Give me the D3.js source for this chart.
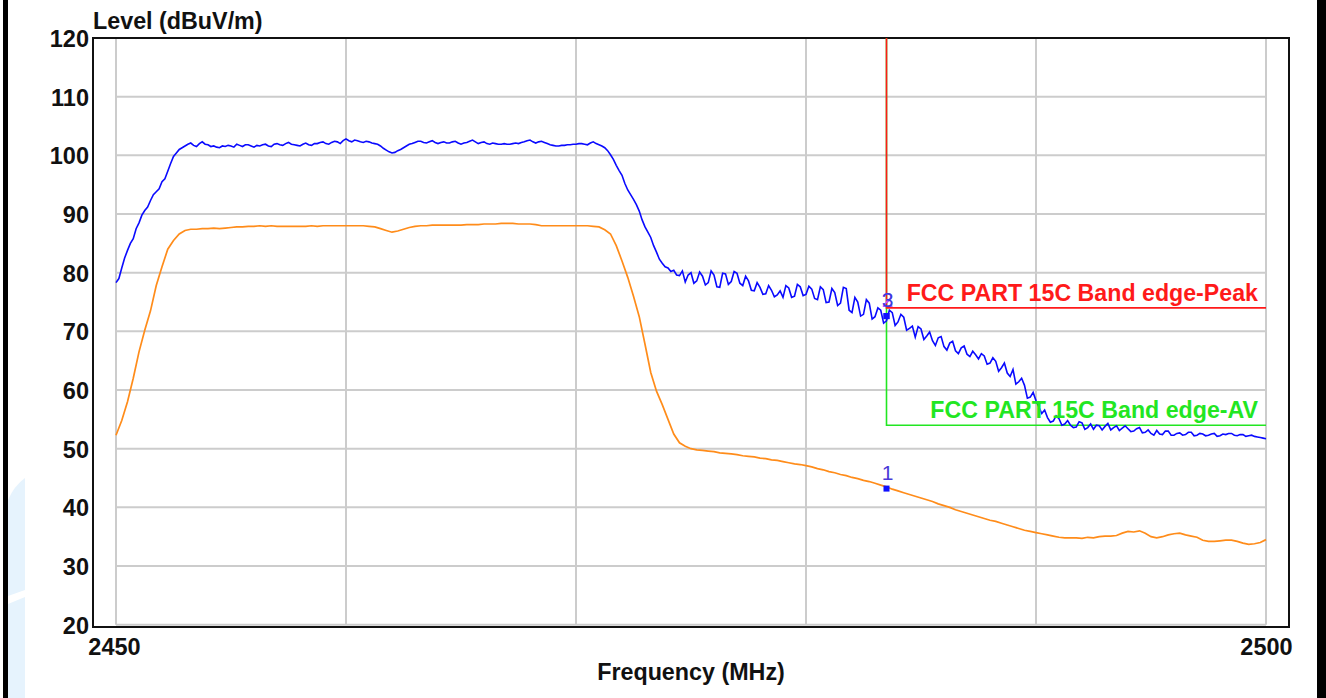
<!DOCTYPE html>
<html>
<head>
<meta charset="utf-8">
<script src="https://cdn.jsdelivr.net/npm/d3@7"></script>
<style>
  body { margin: 0; background: #fff; }
  svg { display: block; font-family: "Liberation Sans", Arial, sans-serif; }
</style>
</head>
<body>
<svg width="1326" height="698"></svg>
<script>
// Sweep settings (MHz)
const freqStart = 2450;
const peakStep = 0.125;
const avgStep = 0.25;

// Peak detector trace (dBuV/m), one value per 0.125 MHz
const peakLevels = [
  78.3, 79.0, 80.8, 82.5, 83.8, 85.0, 85.8, 87.5, 88.5, 89.8, 90.6, 91.2, 92.3, 93.3, 93.8, 94.3, 95.5, 96.0, 97.3, 98.6,
  99.8, 100.4, 101.0, 101.3, 101.6, 101.9, 102.1, 101.7, 101.5, 102.0, 102.3, 101.9, 101.8, 101.5, 101.6, 101.4, 101.3, 101.6, 101.5, 101.7,
  101.6, 101.4, 101.9, 101.7, 101.5, 101.8, 101.8, 101.6, 101.4, 101.7, 101.6, 101.8, 101.9, 101.6, 101.5, 101.9, 102.0, 101.8, 101.7, 102.0,
  102.2, 101.9, 101.8, 101.7, 101.6, 101.9, 102.1, 101.8, 101.7, 102.0, 102.0, 102.2, 102.3, 102.0, 101.9, 102.2, 102.4, 102.3, 102.0, 102.5,
  102.8, 102.5, 102.3, 102.6, 102.5, 102.3, 102.2, 102.4, 102.3, 102.1, 102.0, 101.9, 101.6, 101.2, 100.9, 100.6, 100.4, 100.5, 100.8, 101.0,
  101.3, 101.6, 101.9, 102.0, 102.2, 102.4, 102.4, 102.2, 102.1, 102.3, 102.5, 102.2, 102.0, 102.2, 102.3, 102.1, 102.1, 102.3, 102.4, 102.1,
  101.9, 102.1, 102.2, 102.4, 102.6, 102.3, 102.0, 102.2, 102.3, 102.0, 101.9, 102.1, 102.0, 101.9, 101.9, 102.0, 101.9, 101.9, 102.0, 102.1,
  102.0, 102.2, 102.3, 102.5, 102.6, 102.3, 102.1, 102.3, 102.4, 102.2, 102.0, 101.8, 101.7, 101.6, 101.6, 101.7, 101.7, 101.8, 101.8, 101.9,
  101.9, 102.0, 102.0, 101.9, 101.8, 102.1, 102.3, 102.0, 101.8, 101.6, 101.3, 100.8, 100.1, 99.3, 98.3, 97.4, 96.6, 95.2, 94.1, 93.3,
  92.5, 91.6, 90.5, 89.0, 87.8, 86.9, 86.0, 84.6, 83.5, 82.3, 81.6, 81.0, 80.8, 80.2, 80.4, 79.6, 79.5, 80.3, 78.4, 79.6,
  80.0, 78.2, 78.6, 80.1, 79.4, 77.9, 78.3, 80.3, 79.6, 77.6, 77.5, 79.9, 79.8, 78.0, 78.5, 80.2, 79.9, 78.2, 77.8, 79.4,
  78.6, 77.0, 76.9, 78.3, 77.5, 76.3, 76.4, 77.8, 77.0, 75.9, 76.2, 76.9, 75.8, 77.8, 77.4, 75.8, 76.0, 78.0, 77.6, 76.1,
  76.3, 77.7, 77.2, 75.6, 75.4, 77.6, 77.1, 74.9, 75.0, 77.3, 76.6, 74.4, 74.8, 77.5, 77.3, 73.6, 73.2, 75.8, 75.0, 72.6,
  72.9, 75.4, 74.8, 72.1, 72.5, 74.0, 73.6, 71.4, 71.8, 73.6, 73.2, 71.0, 71.6, 72.9, 72.4, 70.2, 70.5, 70.9, 69.0, 70.8,
  70.4, 68.6, 69.2, 69.9, 68.4, 67.6, 68.9, 69.1, 67.4, 66.8, 68.0, 68.3, 66.7, 66.2, 67.2, 67.5, 66.1, 65.7, 66.6, 66.0,
  65.3, 66.2, 65.8, 64.4, 64.6, 65.5, 64.9, 63.2, 63.8, 64.6, 62.9, 62.3, 63.5, 61.0, 61.4, 62.0, 60.8, 58.6, 58.8, 59.6,
  58.2, 57.1, 56.0, 56.6, 55.3, 54.5, 54.7, 55.6, 55.1, 54.0, 54.2, 54.8, 54.0, 53.6, 53.7, 54.6, 54.4, 53.3, 53.6, 54.2,
  53.3, 54.0, 53.9, 53.2, 53.8, 54.3, 53.2, 53.6, 53.9, 53.1, 53.5, 53.9, 53.4, 52.9, 53.0, 53.4, 53.6, 52.7, 52.8, 53.2,
  52.6, 52.3, 53.1, 52.5, 52.4, 53.0, 53.0, 52.3, 52.3, 52.6, 52.7, 52.3, 52.4, 52.8, 52.8, 52.2, 52.3, 52.6, 52.5, 52.2,
  52.3, 52.5, 52.6, 52.1, 52.2, 52.5, 52.4, 52.6, 52.6, 52.3, 52.2, 52.4, 52.4, 52.1, 52.2, 52.3, 52.1, 52.0, 51.9, 51.8,
  51.7
];

// Average detector trace (dBuV/m), one value per 0.25 MHz
const avgLevels = [
  52.3, 54.8, 58.0, 62.0, 66.5, 70.2, 73.5, 77.8, 81.0, 84.0,
  85.5, 86.6, 87.2, 87.4, 87.4, 87.5, 87.5, 87.6, 87.5, 87.6,
  87.7, 87.8, 87.8, 87.9, 87.9, 88.0, 87.9, 88.0, 87.9, 87.9,
  87.9, 87.9, 87.9, 87.9, 88.0, 87.9, 88.0, 88.0, 88.0, 88.0,
  88.0, 88.0, 88.0, 88.0, 87.9, 87.8, 87.5, 87.2, 86.9, 87.1,
  87.4, 87.7, 87.9, 88.0, 88.0, 88.1, 88.1, 88.1, 88.1, 88.1,
  88.1, 88.2, 88.2, 88.2, 88.3, 88.3, 88.3, 88.4, 88.4, 88.4,
  88.3, 88.3, 88.3, 88.2, 88.0, 88.0, 88.0, 88.0, 88.0, 88.0,
  88.0, 88.0, 88.0, 87.9, 87.8, 87.3, 86.6, 84.6, 82.0, 79.2,
  76.0, 72.5, 67.8, 63.0, 59.8, 57.5, 55.0, 52.5, 51.0, 50.4,
  50.0, 49.8, 49.7, 49.6, 49.5, 49.3, 49.2, 49.1, 49.0, 48.8,
  48.7, 48.6, 48.4, 48.3, 48.1, 48.0, 47.8, 47.6, 47.4, 47.3,
  47.1, 46.9, 46.6, 46.4, 46.1, 45.9, 45.6, 45.4, 45.1, 44.9,
  44.6, 44.4, 44.1, 43.8, 43.5, 43.1, 42.8, 42.5, 42.2, 41.9,
  41.6, 41.3, 41.0, 40.6, 40.3, 40.0, 39.6, 39.3, 39.0, 38.7,
  38.4, 38.1, 37.8, 37.6, 37.3, 37.0, 36.7, 36.4, 36.1, 35.9,
  35.7, 35.5, 35.3, 35.1, 34.9, 34.8, 34.8, 34.8, 34.7, 34.9,
  34.8, 35.0, 35.1, 35.1, 35.2, 35.6, 35.9, 35.8, 36.0, 35.6,
  35.0, 34.8, 35.0, 35.3, 35.5, 35.6, 35.3, 35.1, 34.9, 34.4,
  34.2, 34.2, 34.3, 34.4, 34.4, 34.2, 33.9, 33.7, 33.8, 34.0,
  34.5
];

// Limit lines
const limitNames = ["FCC PART 15C Band edge-AV", "FCC PART 15C Band edge-Peak"];
const limitLevels = [54, 74];
const limitColors = ["#22e622", "#ff1a1a"];
const bandEdge = 2483.5;

// Markers
const markerNames = ["1", "2", "3"];
const markerFreqs = [2483.5, 2483.5, 2483.5];
const markerLevels = [43.2, 72.6, 72.6];
const markerColors = ["#4a3ad8", "#c050ff", "#3a3ae0"];

// Axis ticks
const yTicks = [20, 30, 40, 50, 60, 70, 80, 90, 100, 110, 120];
const xGrid = [2450, 2460, 2470, 2480, 2490, 2500];
const xLabels = [2450, 2500];

const svg = d3.select("svg");

// Page decoration: black side bars and faint watermark
svg.append("rect").attr("x", 3).attr("y", 0).attr("width", 5).attr("height", 698).attr("fill", "#000");
svg.append("rect").attr("x", 1317).attr("y", 0).attr("width", 9).attr("height", 698).attr("fill", "#000");
svg.append("path").attr("d", "M8,596 L8,500 Q14,486 25,478 L25,590 Z").attr("fill", "#e6f3fd");
svg.append("path").attr("d", "M8,604 L25,597 L25,698 L8,698 Z").attr("fill", "#e6f3fd");

const x = d3.scaleLinear().domain([2450, 2500]).range([116, 1266]);
const y = d3.scaleLinear().domain([20, 120]).range([624.7, 38]);

// Grid
const grid = svg.append("g").attr("stroke", "#cccccc").attr("stroke-width", 2);
grid.selectAll(".hg").data(yTicks).enter().append("line")
    .attr("x1", x(2450)).attr("x2", x(2500))
    .attr("y1", d => y(d)).attr("y2", d => y(d));
grid.selectAll(".vg").data(xGrid).enter().append("line")
    .attr("x1", d => x(d)).attr("x2", d => x(d))
    .attr("y1", y(120)).attr("y2", y(20));

// Frame
svg.append("rect")
    .attr("x", 93).attr("y", 38).attr("width", 1196).attr("height", 589)
    .attr("fill", "none").attr("stroke", "#111").attr("stroke-width", 2);

// Y axis labels
svg.append("g")
    .attr("transform", "translate(89,0)")
    .call(d3.axisLeft(y).tickValues(yTicks).tickSize(0).tickPadding(0))
    .call(g => g.select(".domain").remove())
    .selectAll("text")
    .attr("font-family", "Liberation Sans, Arial, sans-serif")
    .attr("font-size", 23.5).attr("font-weight", "bold").attr("fill", "#111")
    .attr("dy", "0.36em");

// X axis labels
svg.append("g")
    .attr("transform", "translate(0,638)")
    .call(d3.axisBottom(x).tickValues(xLabels).tickFormat(d3.format("d")).tickSize(0).tickPadding(0))
    .call(g => g.select(".domain").remove())
    .selectAll("text")
    .attr("font-family", "Liberation Sans, Arial, sans-serif")
    .attr("font-size", 23.5).attr("font-weight", "bold").attr("fill", "#111")
    .attr("dx", (d, i) => i === 0 ? -2 : 0);

// Axis titles
svg.append("text").attr("x", 93).attr("y", 29)
    .attr("font-size", 23.3).attr("font-weight", "bold").attr("fill", "#111")
    .text("Level (dBuV/m)");
svg.append("text").attr("x", 691).attr("y", 680).attr("text-anchor", "middle")
    .attr("font-size", 23.3).attr("font-weight", "bold").attr("fill", "#111")
    .text("Frequency (MHz)");

// Traces
const peakLine = d3.line()
    .x((d, i) => x(freqStart + i * peakStep))
    .y(d => y(d));
const avgLine = d3.line()
    .x((d, i) => x(freqStart + i * avgStep))
    .y(d => y(d));

svg.append("path").datum(avgLevels)
    .attr("d", avgLine).attr("fill", "none")
    .attr("stroke", "#ff8c1a").attr("stroke-width", 1.7);

// Limit lines (green first so red sits on top)
limitLevels.forEach((lvl, i) => {
    svg.append("path")
        .attr("d", `M${x(bandEdge)},${y(120)} V${y(lvl)} H${x(2500)}`)
        .attr("fill", "none").attr("stroke", limitColors[i]).attr("stroke-width", 1.6);
});

svg.append("path").datum(peakLevels)
    .attr("d", peakLine).attr("fill", "none")
    .attr("stroke", "#0a0aff").attr("stroke-width", 1.6);

limitLevels.forEach((lvl, i) => {
    svg.append("text")
        .attr("x", 1258).attr("y", y(lvl) - 7)
        .attr("text-anchor", "end")
        .attr("font-size", 23.2).attr("font-weight", "bold")
        .attr("fill", limitColors[i])
        .text(limitNames[i]);
});

// Markers
markerNames.forEach((name, i) => {
    svg.append("rect")
        .attr("x", x(markerFreqs[i]) - 3).attr("y", y(markerLevels[i]) - 3)
        .attr("width", 6).attr("height", 6).attr("fill", "#1010ff");
    svg.append("text")
        .attr("x", x(markerFreqs[i]) + 1).attr("y", y(markerLevels[i]) - 9)
        .attr("text-anchor", "middle").attr("font-size", 21)
        .attr("fill", markerColors[i])
        .text(name);
});
</script>
</body>
</html>
